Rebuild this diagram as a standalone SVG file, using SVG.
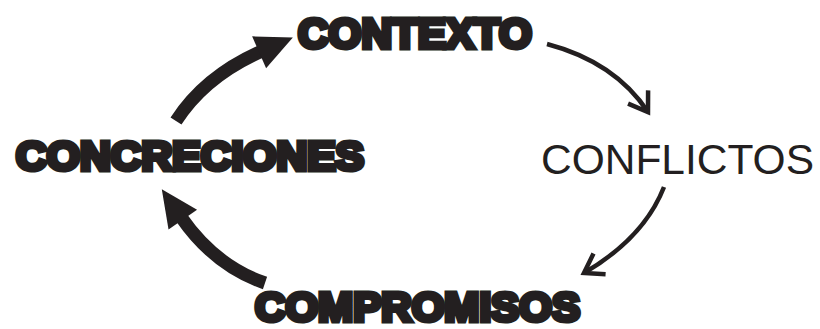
<svg xmlns="http://www.w3.org/2000/svg" width="820" height="329" viewBox="0 0 820 329">
<style>
.heavy{font-family:"Liberation Sans",Arial,sans-serif;font-weight:bold;fill:#231f20;stroke:#231f20;stroke-width:5;stroke-linejoin:miter}
.light{font-family:"Liberation Sans",Arial,sans-serif;font-weight:normal;fill:#231f20}
.thick{fill:none;stroke:#231f20;stroke-width:13}
.thin{fill:none;stroke:#231f20;stroke-width:4.5}
</style>
<defs>
<marker id="solid" markerUnits="userSpaceOnUse" markerWidth="40" markerHeight="40" viewBox="0 -18 38 36" refX="3" refY="0" orient="auto" overflow="visible">
<path d="M0,-16.5 L35,0 L0,16.5 Z" fill="#231f20"/>
</marker>
<marker id="open" markerUnits="userSpaceOnUse" markerWidth="30" markerHeight="30" viewBox="-22 -15 25 30" refX="0" refY="0" orient="auto" overflow="visible">
<path d="M-18,-12 L0,0 L-18,12" fill="none" stroke="#231f20" stroke-width="4.5"/>
</marker>
</defs>
<rect width="820" height="329" fill="#ffffff"/>
<g id="connectors">
<path class="thick" d="M176,121 Q205,76 262,51" marker-end="url(#solid)"/>
<path class="thin" d="M547,44 Q615,62 648,112" marker-end="url(#open)"/>
<path class="thin" d="M664,187 Q644,238 584,273" marker-end="url(#open)"/>
<path class="thick" d="M265,283 Q215,266 181,217" marker-end="url(#solid)"/>
</g>
<g id="contexto"><text class="heavy" x="298" y="48" font-size="42" textLength="234" lengthAdjust="spacingAndGlyphs">CONTEXTO</text></g>
<g id="conflictos"><text class="light" x="541" y="174" font-size="43" textLength="273" lengthAdjust="spacingAndGlyphs">CONFLICTOS</text></g>
<g id="compromisos"><text class="heavy" x="255" y="321" font-size="41" textLength="325" lengthAdjust="spacingAndGlyphs">COMPROMISOS</text></g>
<g id="concreciones"><text class="heavy" x="16" y="170" font-size="40" textLength="348" lengthAdjust="spacingAndGlyphs">CONCRECIONES</text></g>
</svg>
